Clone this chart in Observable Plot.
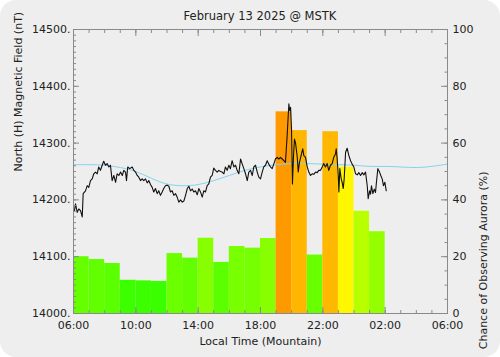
<!DOCTYPE html>
<html>
<head>
<meta charset="utf-8">
<script src="https://cdn.jsdelivr.net/npm/d3@7"></script>
<script src="https://cdn.jsdelivr.net/npm/@observablehq/plot@0.6"></script>
<style>
  html, body { margin: 0; padding: 0; background: #ffffff; }
  #card { width: 500px; height: 357px; background: #eeeeee; border-radius: 16px; overflow: hidden; font-family: "DejaVu Sans", sans-serif; color: #222; }
  #title { height: 24px; box-sizing: border-box; padding: 9px 0 0 20px; text-align: center; font-size: 11.5px; line-height: 15px; }
  svg { display: block; }
</style>
</head>
<body>
<div id="card">
  <div id="title">February 13 2025 @ MSTK</div>
  <div id="chart"></div>
</div>
<script>
// Magnetometer trace: local hour (hours past midnight Feb 13) and field (nT)
const traceHours = [6.06,6.13,6.24,6.34,6.45,6.56,6.62,6.77,6.88,6.98,7.09,7.20,7.30,7.41,7.52,7.62,7.73,7.84,7.94,8.05,8.16,8.27,8.37,8.48,8.59,8.70,8.80,8.91,9.02,9.13,9.23,9.34,9.40,9.48,9.61,9.77,9.87,9.98,10.09,10.19,10.30,10.41,10.51,10.62,10.73,10.83,10.94,11.05,11.15,11.26,11.37,11.47,11.58,11.69,11.79,11.90,12.01,12.12,12.22,12.33,12.44,12.55,12.65,12.76,12.87,12.98,13.08,13.19,13.30,13.40,13.51,13.62,13.72,13.83,13.94,14.04,14.15,14.26,14.36,14.47,14.58,14.68,14.79,14.90,15.00,15.11,15.22,15.32,15.43,15.54,15.65,15.75,15.86,15.97,16.07,16.18,16.29,16.40,16.50,16.61,16.72,16.83,16.93,17.04,17.15,17.25,17.36,17.47,17.57,17.68,17.79,17.89,18.00,18.11,18.21,18.32,18.43,18.53,18.64,18.75,18.85,18.96,19.07,19.18,19.28,19.39,19.50,19.60,19.71,19.82,19.88,19.93,19.99,20.05,20.12,20.18,20.25,20.36,20.42,20.50,20.63,20.71,20.78,20.89,21.00,21.10,21.21,21.32,21.42,21.53,21.64,21.74,21.85,21.96,22.06,22.17,22.28,22.38,22.49,22.60,22.70,22.81,22.86,22.92,22.99,23.03,23.09,23.18,23.24,23.31,23.37,23.46,23.56,23.67,23.78,23.88,23.99,24.10,24.21,24.31,24.42,24.53,24.63,24.74,24.85,24.91,25.00,25.06,25.12,25.21,25.30,25.38,25.44,25.53,25.64,25.72,25.81,25.89,25.98,26.07];
const traceField = [14181,14193,14178,14184,14181,14170,14211,14216,14225,14222,14234,14237,14246,14249,14246,14258,14252,14261,14268,14261,14264,14258,14261,14234,14243,14231,14246,14243,14249,14243,14252,14249,14234,14258,14255,14258,14252,14249,14243,14240,14234,14237,14234,14237,14230,14234,14227,14222,14214,14220,14211,14216,14208,14214,14220,14225,14226,14224,14214,14216,14208,14211,14205,14196,14200,14196,14198,14208,14220,14224,14216,14219,14214,14216,14209,14220,14214,14205,14216,14214,14225,14228,14240,14243,14256,14252,14249,14252,14250,14249,14246,14258,14252,14261,14255,14269,14258,14261,14252,14246,14272,14263,14255,14246,14234,14249,14252,14243,14258,14261,14249,14240,14237,14249,14258,14261,14269,14263,14258,14255,14263,14272,14275,14272,14275,14272,14269,14266,14313,14369,14357,14363,14325,14228,14278,14307,14300,14275,14249,14266,14281,14290,14278,14275,14258,14249,14243,14246,14245,14249,14248,14252,14252,14258,14264,14258,14264,14252,14261,14264,14275,14281,14290,14272,14243,14214,14255,14237,14231,14220,14237,14284,14291,14278,14269,14263,14258,14246,14244,14248,14243,14248,14244,14249,14225,14202,14216,14210,14225,14211,14219,14213,14231,14255,14249,14243,14237,14225,14231,14216];

// Quiet-day baseline (light blue curve)
const baselineHours = [6,7,8,9,10,11,12,13,14,15,16,17,18,19,20,21,22,23,24,25,26,27,28,29,30];
const baselineField = [14262,14262,14261,14257,14250,14238,14228,14225,14227,14234,14243,14252,14258,14262,14264,14264,14263,14262,14261,14259,14259,14258,14257,14259,14263];

// Hourly chance of observing aurora (%)
const barHours = [6,7,8,9,10,11,12,13,14,15,16,17,18,19,20,21,22,23,24,25];
const barChance = [20,19,17.6,11.7,11.5,11.3,21.1,19.5,26.5,18,23.6,23,26.4,71,64.4,20.6,64,51.5,36,28.8];

// Axis ticks
const xLabelHours = [6,10,14,18,22,26,30];
const yLabelValues = [14000,14100,14200,14300,14400,14500];
const pctLabelValues = [0,20,40,60,80,100];

// Right axis maps 0–100 % onto the 14000–14500 nT range
const nTBase = 14000, nTPerPct = 5;

const trace = traceHours.map((h, i) => ({h, v: traceField[i]}));
const baseline = baselineHours.map((h, i) => ({h, v: baselineField[i]}));
const bars = barHours.map((h, i) => ({h, pct: barChance[i]}));

const pad = n => String(n).padStart(2, "0");
const fmtHour = h => pad(((h % 24) + 24) % 24) + ":00";
const axisGray = "#8a8a8a";

const chart = Plot.plot({
  width: 500,
  height: 333,
  marginLeft: 73,
  marginRight: 53,
  marginTop: 5,
  marginBottom: 44,
  style: {background: "transparent", fontFamily: "DejaVu Sans, sans-serif", fontSize: "11px", color: "#222", overflow: "visible"},
  x: {domain: [6, 30]},
  y: {domain: [14000, 14500]},
  color: {type: "linear", domain: [10, 50, 70], range: ["#33ff00", "#ffff00", "#ff9900"], interpolate: "rgb", clamp: true},
  marks: [
    Plot.rect(bars, {x1: "h", x2: d => d.h + 1, y1: nTBase, y2: d => nTBase + d.pct * nTPerPct, fill: "pct"}),
    Plot.line(baseline, {x: "h", y: "v", stroke: "#86d2ee", strokeWidth: 1, curve: "natural"}),
    Plot.line(trace, {x: "h", y: "v", stroke: "#111", strokeWidth: 1.1}),
    Plot.frame({stroke: axisGray}),
    // left axis
    Plot.axisY({anchor: "left", ticks: d3.range(14000, 14501, 10), tickSize: -3, stroke: axisGray, fill: "none", label: null}),
    Plot.axisY({anchor: "left", ticks: yLabelValues, tickSize: -6, stroke: axisGray, fill: "none", label: null}),
    Plot.axisY({anchor: "left", ticks: yLabelValues, tickSize: 0, tickPadding: 3, tickFormat: d => d + ".", label: null}),
    // right axis (percent)
    Plot.axisY({anchor: "right", ticks: d3.range(0, 101, 5).map(p => nTBase + p * nTPerPct), tickSize: -3.5, stroke: axisGray, fill: "none", label: null}),
    Plot.axisY({anchor: "right", ticks: pctLabelValues.map(p => nTBase + p * nTPerPct), tickSize: -7, stroke: axisGray, fill: "none", label: null}),
    Plot.axisY({anchor: "right", ticks: pctLabelValues.map(p => nTBase + p * nTPerPct), tickSize: 0, tickPadding: 5, tickFormat: d => String((d - nTBase) / nTPerPct), label: null}),
    // bottom / top axes
    Plot.axisX({anchor: "bottom", ticks: d3.range(6, 31, 1), tickSize: -3, stroke: axisGray, fill: "none", label: null}),
    Plot.axisX({anchor: "bottom", ticks: xLabelHours, tickSize: -6, stroke: axisGray, fill: "none", label: null}),
    Plot.axisX({anchor: "bottom", ticks: xLabelHours, tickSize: 0, tickPadding: 8, tickFormat: fmtHour, label: null}),
    Plot.axisX({anchor: "top", ticks: d3.range(6, 31, 1), tickSize: -3, stroke: axisGray, fill: "none", label: null}),
    Plot.axisX({anchor: "top", ticks: xLabelHours, tickSize: -6, stroke: axisGray, fill: "none", label: null}),
    // axis titles
    Plot.text(["Local Time (Mountain)"], {frameAnchor: "bottom", dy: 28, lineAnchor: "middle", fontSize: 11, fill: "#222"}),
    Plot.text(["North (H) Magnetic Field (nT)"], {frameAnchor: "left", dx: -55, rotate: -90, lineAnchor: "middle", fontSize: 11, fill: "#222"}),
    Plot.text(["Chance of Observing Aurora (%)"], {frameAnchor: "right", dx: 36, rotate: -90, lineAnchor: "middle", fontSize: 11, fill: "#222"})
  ]
});
document.getElementById("chart").appendChild(chart);
</script>
</body>
</html>
